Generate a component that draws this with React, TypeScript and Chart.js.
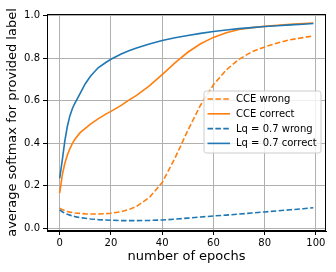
import React, { useEffect, useRef } from "react";
import { Chart, registerables } from "chart.js";

Chart.register(...registerables);

const epochs = [0, 1, 2, 3, 4, 5, 6, 8, 10, 12, 15, 18, 20, 24, 27, 30, 35, 40, 45, 50, 55, 60, 65, 70, 75, 80, 85, 90, 95, 99];

const cceWrong = [0.095, 0.088, 0.083, 0.079, 0.076, 0.074, 0.072, 0.07, 0.068, 0.067, 0.067, 0.069, 0.071, 0.078, 0.088, 0.103, 0.145, 0.215, 0.33, 0.46, 0.58, 0.675, 0.745, 0.795, 0.83, 0.853, 0.872, 0.887, 0.897, 0.905];
const cceCorrect = [0.165, 0.25, 0.305, 0.345, 0.375, 0.4, 0.42, 0.45, 0.47, 0.49, 0.515, 0.537, 0.55, 0.578, 0.603, 0.625, 0.67, 0.723, 0.778, 0.828, 0.868, 0.898, 0.92, 0.935, 0.944, 0.95, 0.955, 0.959, 0.963, 0.966];
const lqWrong = [0.087, 0.078, 0.071, 0.066, 0.062, 0.058, 0.055, 0.05, 0.047, 0.044, 0.041, 0.039, 0.038, 0.036, 0.036, 0.036, 0.037, 0.039, 0.043, 0.048, 0.053, 0.058, 0.062, 0.067, 0.072, 0.077, 0.082, 0.087, 0.092, 0.097];
const lqCorrect = [0.235, 0.32, 0.41, 0.48, 0.53, 0.565, 0.59, 0.635, 0.68, 0.715, 0.755, 0.78, 0.795, 0.82, 0.835, 0.848, 0.867, 0.883, 0.896, 0.907, 0.917, 0.926, 0.933, 0.939, 0.944, 0.949, 0.953, 0.957, 0.96, 0.963];

const seriesLabels = ["CCE wrong", "CCE correct", "Lq = 0.7 wrong", "Lq = 0.7 correct"];
const xTicks = [0, 20, 40, 60, 80, 100];
const yTicks = [0.0, 0.2, 0.4, 0.6, 0.8, 1.0];

const ORANGE = "#ff7f0e";
const BLUE = "#1f77b4";
const DASH = [5.5, 2.4];
const FONT = "'DejaVu Sans', sans-serif";

const toPts = (ys: number[]) => ys.map((y, i) => ({ x: epochs[i], y }));

const framePlugin = {
  id: "frame",
  afterDraw(chart: any) {
    const { ctx, chartArea: a } = chart;
    ctx.save();
    ctx.strokeStyle = "#000";
    ctx.lineWidth = 1;
    ctx.strokeRect(Math.round(a.left) + 0.5, Math.round(a.top) + 0.5, Math.round(a.right - a.left) - 1, Math.round(a.bottom - a.top) - 1);
    ctx.restore();
  },
};

const legendPlugin = {
  id: "mplLegend",
  afterDraw(chart: any) {
    const { ctx, chartArea: a } = chart;
    const x0 = a.right - 122;
    const y0 = a.top + 77;
    const w = 117;
    const h = 62;
    const r = 2.5;
    ctx.save();
    ctx.beginPath();
    ctx.moveTo(x0 + r, y0);
    ctx.lineTo(x0 + w - r, y0);
    ctx.arcTo(x0 + w, y0, x0 + w, y0 + r, r);
    ctx.lineTo(x0 + w, y0 + h - r);
    ctx.arcTo(x0 + w, y0 + h, x0 + w - r, y0 + h, r);
    ctx.lineTo(x0 + r, y0 + h);
    ctx.arcTo(x0, y0 + h, x0, y0 + h - r, r);
    ctx.lineTo(x0, y0 + r);
    ctx.arcTo(x0, y0, x0 + r, y0, r);
    ctx.closePath();
    ctx.fillStyle = "rgba(255,255,255,0.8)";
    ctx.fill();
    ctx.strokeStyle = "#cccccc";
    ctx.lineWidth = 1;
    ctx.stroke();
    ctx.font = `10px ${FONT}`;
    ctx.textBaseline = "middle";
    ctx.textAlign = "left";
    chart.data.datasets.forEach((ds: any, i: number) => {
      const cy = y0 + 8 + i * 14.8;
      ctx.beginPath();
      ctx.setLineDash(ds.borderDash || []);
      ctx.strokeStyle = ds.borderColor;
      ctx.lineWidth = 1.6;
      ctx.moveTo(x0 + 3.5, cy);
      ctx.lineTo(x0 + 26, cy);
      ctx.stroke();
      ctx.setLineDash([]);
      ctx.fillStyle = "#000";
      ctx.fillText(ds.label, x0 + 32, cy + 0.5);
    });
    ctx.restore();
  },
};

export default function App() {
  const ref = useRef<HTMLCanvasElement | null>(null);
  useEffect(() => {
    if (!ref.current) return;
    const chart = new Chart(ref.current, {
      type: "line",
      data: {
        datasets: [
          { label: seriesLabels[0], data: toPts(cceWrong), borderColor: ORANGE, borderDash: DASH, order: 3 },
          { label: seriesLabels[1], data: toPts(cceCorrect), borderColor: ORANGE, order: 2 },
          { label: seriesLabels[2], data: toPts(lqWrong), borderColor: BLUE, borderDash: DASH, order: 1 },
          { label: seriesLabels[3], data: toPts(lqCorrect), borderColor: BLUE, order: 0 },
        ].map((d) => ({ ...d, borderWidth: 1.6, pointRadius: 0, tension: 0, fill: false })),
      },
      options: {
        animation: false,
        responsive: false,
        layout: { padding: { top: 14, right: 10, left: 0, bottom: 0 } },
        plugins: { legend: { display: false }, tooltip: { enabled: false } },
        scales: {
          x: {
            type: "linear",
            min: -4.95,
            max: 103.95,
            afterBuildTicks: (s: any) => { s.ticks = xTicks.map((v) => ({ value: v })); },
            afterFit: (s: any) => { s.height = 41; },
            grid: { color: "#b0b0b0", lineWidth: 1, tickLength: 4, tickColor: "#000" },
            border: { display: true, color: "#000", width: 1 },
            ticks: { font: { family: FONT, size: 10 }, color: "#000", padding: 2, maxRotation: 0, callback: (v: any) => String(v) },
            title: { display: true, text: "number of epochs", font: { family: FONT, size: 13 }, color: "#000", padding: { top: 0, bottom: 7.5 } },
          },
          y: {
            type: "linear",
            min: -0.0127,
            max: 1.008,
            afterBuildTicks: (s: any) => { s.ticks = yTicks.map((v) => ({ value: v })); },
            afterFit: (s: any) => { s.width = 47; },
            grid: { color: "#b0b0b0", lineWidth: 1, tickLength: 4, tickColor: "#000" },
            border: { display: true, color: "#000", width: 1 },
            ticks: { font: { family: FONT, size: 10 }, color: "#000", padding: 3, callback: (v: any) => Number(v).toFixed(1) },
            title: { display: true, text: "average softmax for provided label", font: { family: FONT, size: 13 }, color: "#000", padding: { top: 4.5, bottom: 0 } },
          },
        },
      },
      plugins: [framePlugin, legendPlugin],
    } as any);
    return () => chart.destroy();
  }, []);
  return (
    <div style={{ position: "fixed", left: 0, top: 0, width: 336, height: 272, background: "#fff" }}>
      <canvas ref={ref} width={336} height={272} style={{ width: 336, height: 272, display: "block" }} />
    </div>
  );
}
